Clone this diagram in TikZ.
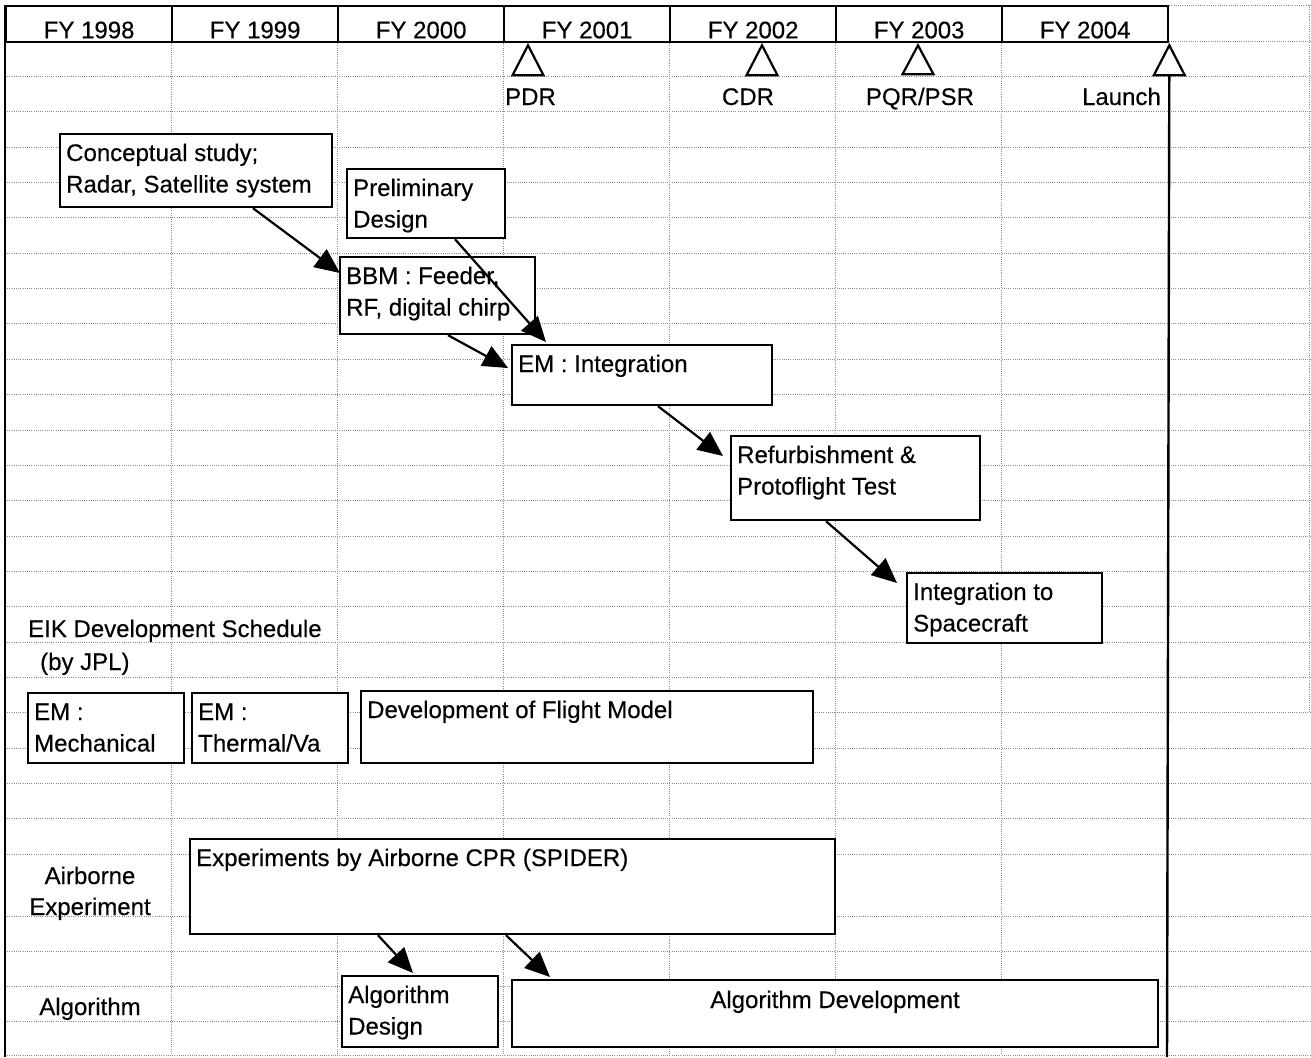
\documentclass[tikz,border=0pt]{standalone}
\usepackage{fontspec}
\setmainfont{Liberation Sans}[FakeBold=0.3]
\usetikzlibrary{arrows.meta,calc}
\begin{document}
\begin{tikzpicture}[x=1pt,y=-1pt,
  grid/.style={draw=black!45,line width=0.7pt,dash pattern=on 1pt off 1.2pt},
  hdr/.style={draw,line width=2.3pt,minimum width=166pt,minimum height=36pt,inner sep=0pt,anchor=north west},
  box/.style={draw,fill=white,line width=2.2pt,inner sep=0pt,anchor=north west},
  txt/.style={inner sep=0pt,font=\fontsize{24}{31.5}\selectfont},
  flow/.style={line width=2.2pt,-{Triangle[length=25pt,width=22pt]}},
  tri/.style={draw,fill=white,line width=2.2pt,line join=miter}]
\useasboundingbox (0,0) rectangle (1311,1057);
\fill[white] (0,0) rectangle (1311,1057);
% grid
\foreach \k in {0,...,23} \draw[grid] (5,{41+\k*35.35}) -- (1311,{41+\k*35.35});
\foreach \yy in {916,951,986,1021,1055} \draw[grid] (5,\yy) -- (1311,\yy);
\foreach \xx in {171,337,503,669,835,1001} \draw[grid] (\xx,41) -- (\xx,1055);
\draw[grid] (1167,5) -- (1311,5);
\draw[grid] (1309,5) -- (1309,713);
% header
\foreach \n/\t [count=\i from 0] in {fy98/FY 1998,fy99/FY 1999,fy00/FY 2000,fy01/FY 2001,fy02/FY 2002,fy03/FY 2003,fy04/FY 2004}{
  \node[hdr] (\n) at ({5+166*\i},5) {};
  \node[txt,anchor=base] at ($(\n.south)+(0,-5)$) {\t};
}
\draw[line width=2.3pt] (5,5) -- (5,1057);
% launch line
\coordinate (lt) at ($(fy04.south east)+(0,31)$);
\coordinate (lend) at (1167,1057);
\draw[line width=2.4pt] (lt) -- (lend);
% milestones
\draw[tri] ($(fy01.south west)+(25,2)$) -- ++(-15.5,30) -- ++(31,0) -- cycle;
\draw[tri] ($(fy02.south west)+(93,2)$) -- ++(-15.5,30) -- ++(31,0) -- cycle;
\draw[tri] ($(fy03.south west)+(83,2)$) -- ++(-15.5,29) -- ++(31,0) -- cycle;
\draw[tri] ($(fy04.south east)+(0,2)$) -- ++(-15.5,30) -- ++(31,0) -- cycle;
\node[txt,anchor=base west] (pdr) at (505,105) {PDR};
\node[txt,anchor=base] (cdr) at (748,105) {CDR};
\node[txt,anchor=base] (pqr) at (920,105) {PQR/PSR};
\node[txt,anchor=base east] (lau) at (1161,105) {Launch};
% boxes
\newcommand\boxtext[2]{\node[txt,anchor=base west] at ($(#1.north west)+(7,28)$) {\begin{tabular}[t]{@{}l@{}}#2\end{tabular}};}
\node[box,minimum width=272pt,minimum height=73pt] (cs) at (59,133) {};
\boxtext{cs}{Conceptual study;\\Radar, Satellite system}
\node[box,minimum width=158pt,minimum height=69pt] (pd) at (346,168) {};
\boxtext{pd}{Preliminary\\Design}
\node[box,minimum width=195pt,minimum height=77pt] (bbm) at (339,256) {};
\boxtext{bbm}{BBM : Feeder,\\RF, digital chirp}
\node[box,minimum width=260pt,minimum height=60pt] (em) at (511,344) {};
\boxtext{em}{EM : Integration}
\node[box,minimum width=249pt,minimum height=84pt] (rf) at (730,435) {};
\boxtext{rf}{Refurbishment \&\\Protoflight Test}
\node[box,minimum width=195pt,minimum height=70pt] (isc) at (906,572) {};
\boxtext{isc}{Integration to\\Spacecraft}
\node[box,minimum width=156pt,minimum height=70pt] (emm) at (27,692) {};
\boxtext{emm}{EM :\\Mechanical}
\node[box,minimum width=156pt,minimum height=70pt] (emt) at (191,692) {};
\boxtext{emt}{EM :\\Thermal/Va}
\node[box,minimum width=452pt,minimum height=72pt] (dfm) at (360,690) {};
\boxtext{dfm}{Development of Flight Model}
\node[box,minimum width=645pt,minimum height=95pt] (exp) at (189,838) {};
\boxtext{exp}{Experiments by Airborne CPR (SPIDER)}
\node[box,minimum width=156pt,minimum height=71pt] (ad) at (341,975) {};
\boxtext{ad}{Algorithm\\Design}
\node[box,minimum width=646pt,minimum height=67pt] (adev) at (511,979) {};
\node[txt,anchor=base] at ($(adev.north)+(0,29)$) {Algorithm Development};
% side labels
\node[txt,anchor=base west] (eik) at (28,637) {EIK Development Schedule};
\node[txt,anchor=base west] (jpl) at (40,670) {(by JPL)};
\node[txt,anchor=base] (air) at (90,884) {Airborne};
\node[txt,anchor=base] (expl) at (90,915) {Experiment};
\node[txt,anchor=base] (alg) at (90,1015) {Algorithm};
% arrows
\draw[flow] ($(cs.south west)+(194,0)$) -- ($(bbm.north west)+(1,17)$);
\draw[flow] ($(pd.south west)+(109,0)$) -- ($(em.north west)+(35,-2)$);
\draw[flow] ($(bbm.south west)+(109,0)$) -- ($(em.north west)+(-3,24)$);
\draw[flow] ($(em.south west)+(147,0)$) -- ($(rf.north west)+(-7,21)$);
\draw[flow] ($(rf.south west)+(96,0)$) -- ($(isc.north west)+(-9,11)$);
\draw[flow] ($(exp.south west)+(189,0)$) -- ($(ad.north west)+(72,-2)$);
\draw[flow] ($(exp.south west)+(317,0)$) -- ($(adev.north west)+(39,-2)$);
\end{tikzpicture}
\end{document}
